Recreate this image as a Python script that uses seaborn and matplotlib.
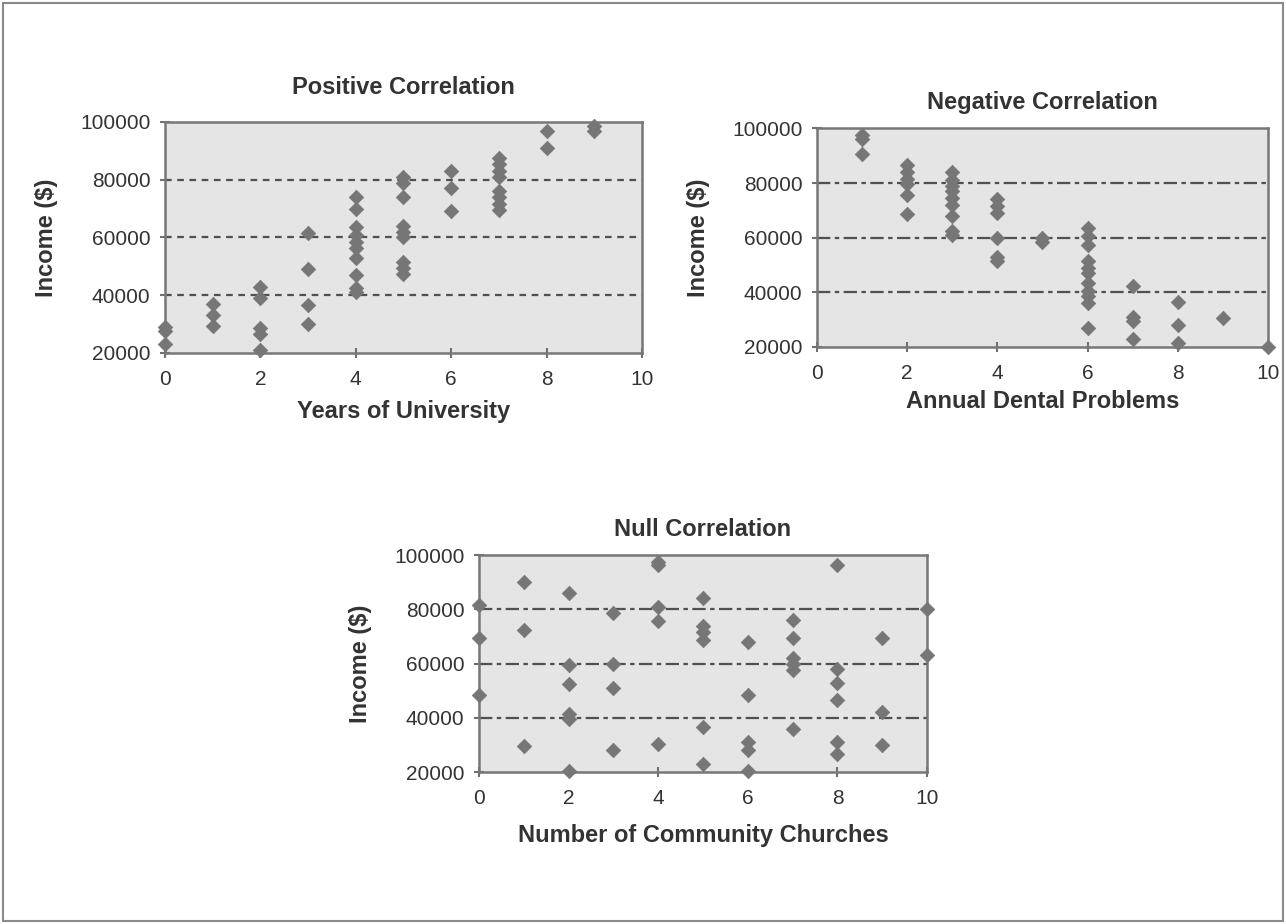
import matplotlib
matplotlib.use("Agg")
import matplotlib.pyplot as plt
import seaborn as sns
import pandas as pd
from matplotlib.patches import Rectangle

# dados
pos_years = [0]*3 + [1]*3 + [2]*5 + [3]*4 + [4]*10 + [5]*9 + [6]*3 + [7]*8 + [8]*2 + [9]*2
pos_income = [29000, 27500, 23000,
              37000, 33000, 29500,
              43000, 39000, 28500, 26500, 21000,
              61500, 49000, 36500, 30000,
              74000, 70000, 63500, 61000, 58500, 56500, 53000, 47000, 42500, 41000,
              81000, 79000, 74000, 64000, 62000, 60000, 51500, 49500, 47500,
              83000, 77000, 69000,
              87500, 85500, 83000, 81000, 76000, 74000, 71500, 69500,
              97000, 91000,
              98500, 97000]

neg_dental = [1]*3 + [2]*6 + [3]*9 + [4]*6 + [5]*2 + [6]*11 + [7]*4 + [8]*3 + [9] + [10]
neg_income = [97500, 96000, 90500,
              86500, 84000, 81500, 79500, 75500, 68500,
              84000, 81000, 79000, 77000, 74500, 72000, 68000, 62500, 61000,
              74000, 71500, 69000, 60000, 53000, 51500,
              60000, 58500,
              63500, 60500, 57500, 51500, 49000, 47000, 43500, 40500, 38500, 36000, 27000,
              42500, 31000, 29500, 23000,
              36500, 28000, 21500,
              30500,
              20000]

null_churches = [0]*3 + [1]*3 + [2]*6 + [3]*4 + [4]*5 + [5]*6 + [6]*5 + [7]*6 + [8]*6 + [9]*3 + [10]*2
null_income = [81500, 69500, 48500,
               90000, 72500, 29500,
               86000, 59500, 52500, 41500, 39500, 20500,
               78500, 60000, 51000, 28000,
               97500, 96500, 81000, 75500, 30500,
               84000, 74000, 71500, 68500, 36500, 23000,
               68000, 48500, 31000, 28000, 20500,
               76000, 69500, 62000, 60000, 57500, 36000,
               96500, 58000, 53000, 46500, 31000, 26500,
               69500, 42000, 30000,
               80000, 63000]

sns.set_theme(style="white")
plt.rcParams['font.family'] = ['Liberation Sans', 'DejaVu Sans']

fig = plt.figure(figsize=(12.86, 9.24), dpi=100)
fig.patches.append(Rectangle((0.002, 0.003), 0.996, 0.994, transform=fig.transFigure,
                             fill=False, edgecolor='#8a8a8a', linewidth=1.5))

# posicao, x, y, titulo, rotulo x, estilo da grade, pad titulo, pad rotulo x
paineis = [
    ([0.1283, 0.6180, 0.3709, 0.2500], pos_years, pos_income,
     'Positive Correlation', 'Years of University', (0, (3, 2.5)), 20, 8),
    ([0.6353, 0.6245, 0.3507, 0.2365], neg_dental, neg_income,
     'Negative Correlation', 'Annual Dental Problems', (0, (6, 2, 2, 2)), 14, 5),
    ([0.3725, 0.1645, 0.3484, 0.2348], null_churches, null_income,
     'Null Correlation', 'Number of Community Churches', (0, (6, 2, 2, 2)), 14, 11),
]

for pos, xs, ys, titulo, xlab, estilo, tpad, xpad in paineis:
    ax = fig.add_axes(pos)
    ax.set_facecolor('#e5e5e5')
    df = pd.DataFrame({'x': xs, 'y': ys})
    for g in [40000, 60000, 80000]:
        ax.axhline(g, color='#505050', linewidth=1.6, linestyle=estilo, zorder=1)
    sns.scatterplot(data=df, x='x', y='y', marker='D', s=55, color='#767676',
                    edgecolor='#767676', linewidth=0.5, ax=ax, zorder=3, clip_on=False)
    ax.set_xlim(0, 10)
    ax.set_ylim(20000, 100000)
    ax.set_xticks([0, 2, 4, 6, 8, 10])
    ax.set_yticks([20000, 40000, 60000, 80000, 100000])
    ax.set_yticklabels(['20000', '40000', '60000', '80000', '100000'])
    ax.tick_params(direction='inout', length=7, width=1.5, color='#707070',
                   labelsize=15, labelcolor='#333333')
    ax.tick_params(axis='y', pad=7)
    ax.tick_params(axis='x', pad=9)
    ax.tick_params(bottom=True, left=True)
    for s in ax.spines.values():
        s.set_color('#777777')
        s.set_linewidth(1.8)
    ax.set_title(titulo, fontsize=17, fontweight='bold', color='#333333', pad=tpad)
    ax.set_xlabel(xlab, fontsize=17, fontweight='bold', color='#333333', labelpad=xpad)
    ax.set_ylabel('Income ($)', fontsize=17, fontweight='bold', color='#333333', labelpad=16)

fig.savefig('out.png', dpi=100, facecolor='white')
